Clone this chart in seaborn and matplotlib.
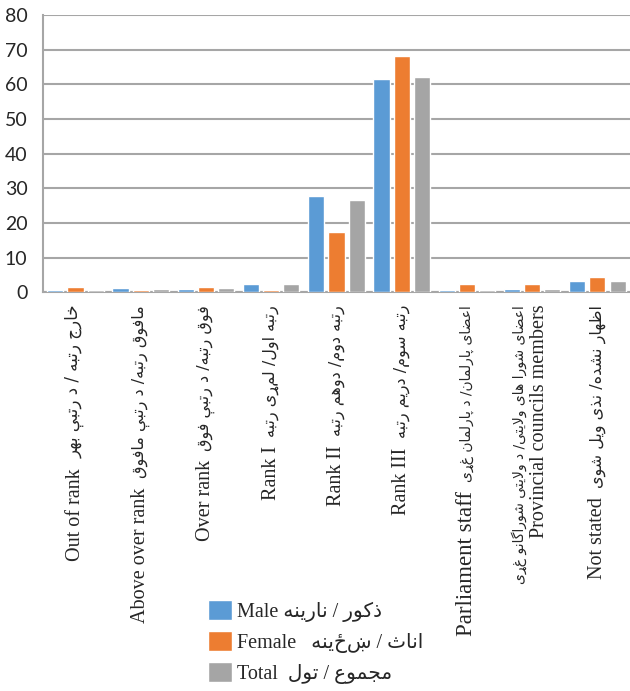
#bar chart of rank distribution by sex (Male / Female / Total)
import pandas as pd
import matplotlib.pyplot as plt
import matplotlib.transforms as mtransforms
import seaborn as sns
from matplotlib.patches import Patch

#data
categories_en = ['Out of rank', 'Above over rank', 'Over rank', 'Rank I', 'Rank II',
                 'Rank III', 'Parliament staff', 'Provincial councils members', 'Not stated']
categories_ar = ['خارج رتبه / د رتبې بهر', 'مافوق رتبه/ د رتبې مافوق', 'فوق رتبه/ د رتبې فوق',
                 'رتبه اول/ لمړی رتبه', 'رتبه دوم/ دوهم رتبه', 'رتبه سوم/ دریم رتبه',
                 'اعضای پارلمان/ د پارلمان غړی', 'اعضای شورا های ولایتی/ د ولایتی شوراگانو غړی',
                 'اظهار نشده/ نذی ویل شوی']
male = [0.6, 1.2, 0.9, 2.4, 27.8, 61.5, 0.6, 0.9, 3.3]
female = [1.5, 0.6, 1.5, 0.6, 17.4, 68.1, 2.4, 2.4, 4.4]
total = [0.6, 0.9, 1.2, 2.4, 26.6, 62.3, 0.6, 0.9, 3.3]
series = ['Male', 'Female', 'Total']
series_ar = ['ذکور / نارینه', 'اناث / ښځینه', 'مجموع / تول']
colors = ['#5B9BD5', '#ED7D31', '#A5A5A5']

#label font sizes (the source is not uniform)
ar_sizes = [12, 11.5, 11.5, 11.5, 11.5, 11.5, 10, 10, 11.5]
en_sizes = [14.5, 14.5, 14.5, 14.5, 14.5, 14.5, 16.5, 14.5, 14.5]

#matplotlib has no arabic shaping, so pick presentation forms by hand
FORMS = {
    '\u0627': ('\uFE8D', '\uFE8E', None, None),
    '\u0628': ('\uFE8F', '\uFE90', '\uFE91', '\uFE92'),
    '\u062A': ('\uFE95', '\uFE96', '\uFE97', '\uFE98'),
    '\u062B': ('\uFE99', '\uFE9A', '\uFE9B', '\uFE9C'),
    '\u062C': ('\uFE9D', '\uFE9E', '\uFE9F', '\uFEA0'),
    '\u062E': ('\uFEA5', '\uFEA6', '\uFEA7', '\uFEA8'),
    '\u062F': ('\uFEA9', '\uFEAA', None, None),
    '\u0630': ('\uFEAB', '\uFEAC', None, None),
    '\u0631': ('\uFEAD', '\uFEAE', None, None),
    '\u0633': ('\uFEB1', '\uFEB2', '\uFEB3', '\uFEB4'),
    '\u0634': ('\uFEB5', '\uFEB6', '\uFEB7', '\uFEB8'),
    '\u0636': ('\uFEBD', '\uFEBE', '\uFEBF', '\uFEC0'),
    '\u0638': ('\uFEC5', '\uFEC6', '\uFEC7', '\uFEC8'),
    '\u0639': ('\uFEC9', '\uFECA', '\uFECB', '\uFECC'),
    '\u063A': ('\uFECD', '\uFECE', '\uFECF', '\uFED0'),
    '\u0641': ('\uFED1', '\uFED2', '\uFED3', '\uFED4'),
    '\u0642': ('\uFED5', '\uFED6', '\uFED7', '\uFED8'),
    '\u0644': ('\uFEDD', '\uFEDE', '\uFEDF', '\uFEE0'),
    '\u0645': ('\uFEE1', '\uFEE2', '\uFEE3', '\uFEE4'),
    '\u0646': ('\uFEE5', '\uFEE6', '\uFEE7', '\uFEE8'),
    '\u0647': ('\uFEE9', '\uFEEA', '\uFEEB', '\uFEEC'),
    '\u0648': ('\uFEED', '\uFEEE', None, None),
    '\u067E': ('\uFB56', '\uFB57', '\uFB58', '\uFB59'),
    '\u06A9': ('\uFB8E', '\uFB8F', '\uFB90', '\uFB91'),
    '\u06AF': ('\uFB92', '\uFB93', '\uFB94', '\uFB95'),
    '\u06CC': ('\uFBFC', '\uFBFD', '\uFBFE', '\uFBFF'),
    '\u06D0': ('\uFBE4', '\uFBE5', '\uFBE6', '\uFBE7'),
}

def dual(c):
    return c in FORMS and FORMS[c][2] is not None

def shape(s):
    out = []
    i = 0
    while i < len(s):
        c = s[i]
        prev = s[i-1] if i > 0 else ''
        nxt = s[i+1] if i+1 < len(s) else ''
        link_prev = c in FORMS and dual(prev)
        if c == '\u0644' and nxt == '\u0627':
            out.append('\uFEFC' if link_prev else '\uFEFB')
            i += 2
            continue
        if c not in FORMS:
            out.append(c)
            i += 1
            continue
        link_next = dual(c) and nxt in FORMS
        iso, fin, ini, med = FORMS[c]
        if link_prev and link_next:
            out.append(med)
        elif link_prev:
            out.append(fin)
        elif link_next:
            out.append(ini)
        else:
            out.append(iso)
        i += 1
    return ''.join(reversed(out))

#long format for seaborn
rows = []
for k, cat in enumerate(categories_en):
    rows.append([cat, 'Male', male[k]])
    rows.append([cat, 'Female', female[k]])
    rows.append([cat, 'Total', total[k]])
df = pd.DataFrame(rows, columns=['category', 'series', 'value'])

sns.set_style('white')
fonts = ['Liberation Serif', 'DejaVu Sans']
grey = '#a6a6a6'

fig = plt.figure(figsize=(6.3, 6.91), dpi=100)
ax = fig.add_axes([0.068, 0.577, 0.932, 0.401])
sns.barplot(data=df, x='category', y='value', hue='series', order=categories_en,
            hue_order=series, palette=colors, width=0.93, gap=0.2, saturation=1,
            legend=False, errorbar=None, ax=ax, zorder=3)

ax.set_xlim(-0.5, 8.5)
ax.set_ylim(0, 80)
ax.set_yticks(range(0, 81, 10))
ax.yaxis.grid(True, color=grey, linewidth=1.5)
ax.set_axisbelow(True)
for side in ['top', 'right']:
    ax.spines[side].set_visible(False)
for side in ['left', 'bottom']:
    ax.spines[side].set_color(grey)
    ax.spines[side].set_linewidth(1.5)
    ax.spines[side].set_zorder(1)
ax.set_xlabel('')
ax.set_ylabel('')

#tick labels carry the arabic part, english part hangs below it
ax.set_xticks(range(len(categories_en)))
ax.set_xticklabels([shape(a) for a in categories_ar], rotation=90, fontfamily='DejaVu Sans')
ax.set_xticks([x - 0.5 for x in range(len(categories_en) + 1)], minor=True)
ax.tick_params(axis='x', which='major', length=0, pad=9)
ax.tick_params(axis='x', which='minor', length=5, width=1.5, color=grey)
ax.tick_params(axis='y', length=5, width=1.5, color=grey, pad=6)
for t in ax.get_yticklabels():
    t.set_fontfamily('Lato')
    t.set_fontsize(14)

for k, (en, lab) in enumerate(zip(categories_en, ax.get_xticklabels())):
    lab.set_fontsize(ar_sizes[k])
    if en == 'Provincial councils members':
        #two columns: arabic line left, english line right, both hanging from the top
        lab.set_transform(lab.get_transform() + mtransforms.ScaledTranslation(-13/100, 0, fig.dpi_scale_trans))
        ax.annotate(en, xy=(1, 1), xycoords=lab, xytext=(2, 0), textcoords='offset points',
                    rotation=90, ha='left', va='top', family='Liberation Serif',
                    fontsize=en_sizes[k], annotation_clip=False)
    else:
        ax.annotate(en, xy=(0.5, 0), xycoords=lab, xytext=(0, -7), textcoords='offset points',
                    rotation=90, ha='center', va='top', family='Liberation Serif',
                    fontsize=en_sizes[k], annotation_clip=False)

handles = [Patch(facecolor=c) for c in colors]
leg_labels = [series[0] + ' ' + shape(series_ar[0]),
              series[1] + '   ' + shape(series_ar[1]),
              series[2] + '  ' + shape(series_ar[2])]
ax.legend(handles, leg_labels, loc='upper left', bbox_to_anchor=(0.302, 0.158),
          bbox_transform=fig.transFigure, frameon=False, handlelength=1.15,
          handleheight=1.15, handletextpad=0.25, labelspacing=0.45,
          prop={'family': fonts, 'size': 14.5})

fig.savefig('out.png', dpi=100)
